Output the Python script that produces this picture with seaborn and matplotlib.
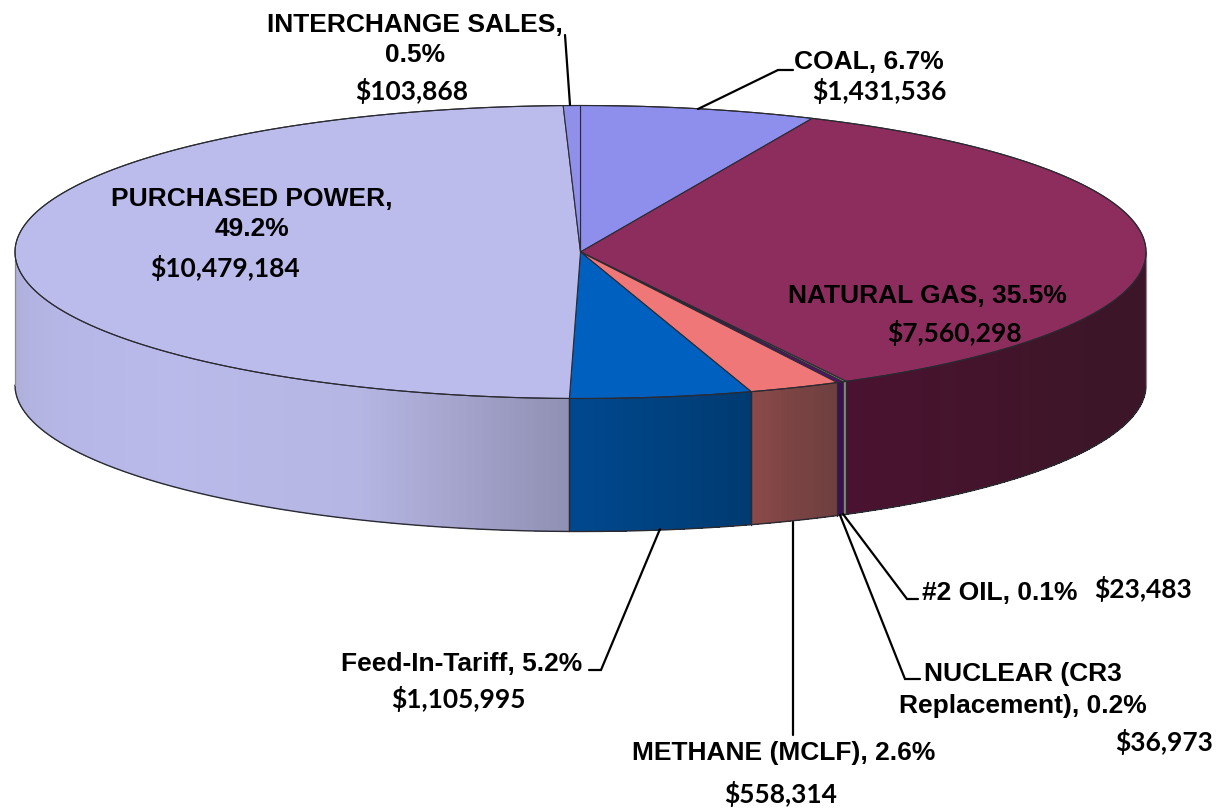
import numpy as np
import pandas as pd
import matplotlib
matplotlib.use("Agg")
import matplotlib.pyplot as plt
from matplotlib.colors import to_rgb
import seaborn as sns

# --- Data ---
fuentes = ["COAL", "NATURAL GAS", "#2 OIL", "NUCLEAR", "METHANE", "FEED-IN", "PURCHASED", "INTERCHANGE"]
costos = [1431536, 7560298, 23483, 36973, 558314, 1105995, 10479184, 103868]
colores = ["#8e8eec", "#8c2d5e", "#85857a", "#5a1070", "#f07777", "#0060c0", "#bcbcec", "#9090ea"]

# wall colours, evenly spaced along the visible arc of each slice
paredes = {
    "NATURAL GAS": ["#3f1528", "#3c1528", "#3e1529", "#44142c", "#4a1230"],
    "#2 OIL": ["#85857a", "#85857a"],
    "NUCLEAR": ["#3b0f50", "#3b0f50"],
    "METHANE": ["#6e3f3f", "#7a4343", "#8c4a4a"],
    "FEED-IN": ["#003a70", "#004280", "#00488f"],
    "PURCHASED": ["#9090b4", "#b6b6e4", "#babaea", "#b6b6e6", "#aeaed8"],
}

etiquetas = [
    "INTERCHANGE SALES,", "0.5%", "COAL, 6.7%", "PURCHASED POWER,", "49.2%",
    "NATURAL GAS, 35.5%", "#2 OIL, 0.1%", "NUCLEAR (CR3", "Replacement), 0.2%",
    "METHANE (MCLF), 2.6%", "Feed-In-Tariff, 5.2%",
]
etiquetas_xy = [
    (415, 25), (415, 55), (869, 62), (252, 199), (252, 229),
    (927, 296), (1000, 593), (1023, 674), (1023, 706),
    (784, 753), (462, 664),
]
montos = ["$103,868", "$1,431,536", "$10,479,184", "$7,560,298", "$23,483", "$36,973", "$558,314", "$1,105,995"]
montos_xy = [
    (412, 91), (879, 91), (225, 268), (954, 333),
    (1143, 589), (1164, 742), (781, 794), (458, 699),
]
guias = [
    [(565, 35), (570, 105)],
    [(793, 70), (778, 70), (698, 109)],
    [(918, 599), (907, 599), (843, 514)],
    [(920, 679), (905, 679), (840, 515)],
    [(793, 735), (793, 522)],
    [(589, 670), (601, 670), (660, 529)],
]

# --- Geometry of the tilted pie ---
cx, cy = 580.5, 252
rx, ry = 565.5, 146.5
alto = 133


def arco(t):
    t = np.radians(t)
    return cx + rx * np.sin(t), cy - ry * np.cos(t)


df = pd.DataFrame({"fuente": fuentes, "costo": costos, "color": colores})
df["fin"] = df["costo"].cumsum() / df["costo"].sum() * 360
df["inicio"] = df["fin"].shift(fill_value=0)

sns.set_theme(style="white")
paleta = sns.color_palette(colores)

fig = plt.figure(figsize=(12.22, 8.09), dpi=100)
ax = fig.add_axes([0, 0, 1, 1])
ax.set_xlim(0, 1222)
ax.set_ylim(809, 0)
ax.axis("off")

# --- Walls, only the front half is visible ---
borde = "#2a2a32"
for fila in df.itertuples():
    a, b = max(fila.inicio, 90), min(fila.fin, 270)
    if b <= a or fila.fuente not in paredes:
        continue
    ts = np.linspace(a, b, max(int((b - a) * 3), 2))
    rgb = np.array([to_rgb(c) for c in paredes[fila.fuente]])
    pos = np.linspace(0, 1, len(rgb))
    for t0, t1 in zip(ts[:-1], ts[1:]):
        f = ((t0 + t1) / 2 - a) / (b - a)
        c = [np.interp(f, pos, rgb[:, i]) for i in range(3)]
        x0, y0 = arco(t0)
        x1, y1 = arco(t1)
        ax.fill([x0, x1, x1, x0], [y0, y1, y1 + alto, y0 + alto], color=c, lw=0, antialiased=False, zorder=2)

# --- Wall outline ---
for fila in df.itertuples():
    a, b = max(fila.inicio, 90), min(fila.fin, 270)
    if b <= a:
        continue
    ts = np.linspace(a, b, 200)
    x, y = arco(ts)
    ax.plot(x, y + alto, color=borde, lw=1.0, zorder=3)
    for t in (a, b):
        xv, yv = arco(t)
        ax.plot([xv, xv], [yv, yv + alto], color=borde if t not in (90, 270) else "#8a8a94",
                lw=0.9 if fila.fuente not in ("#2 OIL", "NUCLEAR") else 0.5, zorder=3)

# --- Top face ---
for fila, color in zip(df.itertuples(), paleta):
    ts = np.linspace(fila.inicio, fila.fin, max(int(fila.fin - fila.inicio) * 3, 3))
    x, y = arco(ts)
    ax.fill(np.r_[cx, x], np.r_[cy, y], facecolor=color, edgecolor=borde, lw=0.8, joinstyle="miter", zorder=4)

# --- Rim of the top face, through seaborn ---
ts = np.linspace(0, 360, 721)
x, y = arco(ts)
sns.lineplot(x=x, y=y, sort=False, estimator=None, color=borde, lw=0.8, ax=ax, legend=False, zorder=5)
ax.set_xlim(0, 1222)
ax.set_ylim(809, 0)

# --- Leader lines ---
for g in guias:
    gx, gy = zip(*g)
    ax.plot(gx, gy, color="black", lw=1.6, zorder=6, solid_joinstyle="miter")

# --- Texts ---
for txt, (x, y) in zip(etiquetas, etiquetas_xy):
    ax.text(x, y, txt, ha="center", va="center", fontsize=19, fontweight="bold",
            family="Liberation Sans", color="black", zorder=7)
for txt, (x, y) in zip(montos, montos_xy):
    ax.text(x, y, txt, ha="center", va="center", fontsize=19, fontweight="bold",
            family="Lato", color="black", zorder=7)

fig.savefig("out.png", dpi=100)
